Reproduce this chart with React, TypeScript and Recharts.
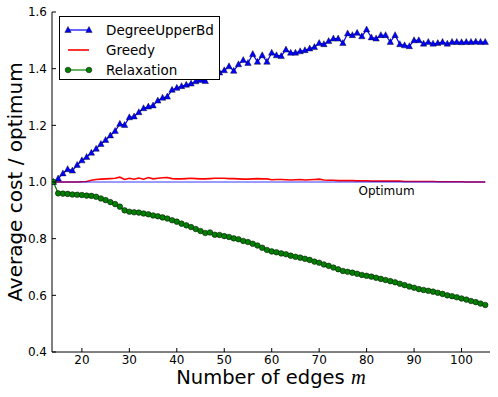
import React from "react";
import {
  LineChart,
  Line,
  XAxis,
  YAxis,
  Legend,
  Label,
  ReferenceLine,
  ReferenceDot,
} from "recharts";

// number of edges m
const edges = [
  14, 15, 16, 17, 18, 19, 20, 21, 22, 23, 24, 25, 26, 27, 28, 29, 30, 31, 32,
  33, 34, 35, 36, 37, 38, 39, 40, 41, 42, 43, 44, 45, 46, 47, 48, 49, 50, 51,
  52, 53, 54, 55, 56, 57, 58, 59, 60, 61, 62, 63, 64, 65, 66, 67, 68, 69, 70,
  71, 72, 73, 74, 75, 76, 77, 78, 79, 80, 81, 82, 83, 84, 85, 86, 87, 88, 89,
  90, 91, 92, 93, 94, 95, 96, 97, 98, 99, 100, 101, 102, 103, 104, 105,
];

const degreeUpperBd = [
  1.0, 1.012, 1.03, 1.045, 1.04, 1.06, 1.076, 1.088, 1.103, 1.117, 1.134,
  1.148, 1.164, 1.18, 1.205, 1.201, 1.228, 1.231, 1.246, 1.26, 1.266, 1.27,
  1.287, 1.297, 1.301, 1.325, 1.332, 1.338, 1.343, 1.347, 1.355, 1.36, 1.356,
  1.372, 1.38, 1.386, 1.394, 1.408, 1.392, 1.415, 1.43, 1.42, 1.451, 1.424,
  1.447, 1.424, 1.456, 1.447, 1.444, 1.467, 1.456, 1.456, 1.461, 1.465, 1.471,
  1.476, 1.49, 1.486, 1.497, 1.506, 1.506, 1.49, 1.524, 1.518, 1.526, 1.514,
  1.538, 1.51, 1.506, 1.518, 1.518, 1.494, 1.518, 1.486, 1.482, 1.479, 1.5,
  1.5, 1.488, 1.494, 1.488, 1.49, 1.494, 1.488, 1.494, 1.494, 1.493, 1.494,
  1.494, 1.495, 1.494, 1.494,
];

const greedy = [
  1.0, 1.0, 1.0, 1.0, 1.0, 1.0, 1.001, 1.002, 1.006, 1.009, 1.01, 1.011, 1.012,
  1.013, 1.017, 1.009, 1.013, 1.01, 1.014, 1.01, 1.016, 1.011, 1.013, 1.015,
  1.016, 1.012, 1.011, 1.011, 1.012, 1.013, 1.012, 1.011, 1.011, 1.012, 1.013,
  1.013, 1.013, 1.012, 1.012, 1.011, 1.01, 1.01, 1.011, 1.012, 1.011, 1.011,
  1.008, 1.009, 1.009, 1.008, 1.007, 1.008, 1.009, 1.007, 1.008, 1.009, 1.01,
  1.007, 1.006, 1.006, 1.005, 1.005, 1.005, 1.005, 1.004, 1.004, 1.004, 1.003,
  1.003, 1.003, 1.003, 1.003, 1.003, 1.003, 1.002, 1.002, 1.002, 1.002, 1.002,
  1.002, 1.002, 1.001, 1.001, 1.001, 1.001, 1.001, 1.001, 1.0, 1.0, 1.0, 1.0,
  1.0,
];

const relaxation = [
  1.0, 0.96, 0.959, 0.958, 0.956, 0.955, 0.954, 0.952, 0.951, 0.948, 0.942,
  0.936, 0.929, 0.922, 0.913, 0.9, 0.895, 0.893, 0.892, 0.889, 0.886, 0.882,
  0.879, 0.875, 0.871, 0.865, 0.86, 0.853, 0.847, 0.841, 0.834, 0.827, 0.82,
  0.822, 0.814, 0.813, 0.809, 0.806, 0.801, 0.798, 0.792, 0.788, 0.782, 0.776,
  0.768, 0.76, 0.755, 0.752, 0.748, 0.745, 0.74, 0.736, 0.733, 0.729, 0.725,
  0.719, 0.715, 0.709, 0.704, 0.698, 0.692, 0.686, 0.683, 0.68, 0.676, 0.672,
  0.669, 0.666, 0.662, 0.658, 0.654, 0.65, 0.646, 0.641, 0.636, 0.631, 0.627,
  0.622, 0.619, 0.616, 0.613, 0.609, 0.605, 0.6, 0.597, 0.593, 0.589, 0.585,
  0.58, 0.576, 0.571, 0.566,
];

const xTicks = [20, 30, 40, 50, 60, 70, 80, 90, 100];
const yTicks = [0.4, 0.6, 0.8, 1.0, 1.2, 1.4, 1.6];
const xDomain = [13.7, 106];
const yDomain = [0.4, 1.6];
const optimumLabelAt = 84.2;

const data = edges.map((m, i) => ({
  m,
  degree: degreeUpperBd[i],
  greedy: greedy[i],
  relax: relaxation[i],
}));

const FONT = "DejaVu Sans";
const TICK_LEN = 4;

const BottomTick = (p: any) => (
  <g>
    <line x1={p.x} x2={p.x} y1={p.y} y2={p.y - TICK_LEN} stroke="#000" />
    <text x={p.x} y={p.y + 12} textAnchor="middle" fontSize={12} fill="#000" fontFamily={FONT}>
      {p.payload.value}
    </text>
  </g>
);

const TopTick = (p: any) => (
  <line x1={p.x} x2={p.x} y1={p.y} y2={p.y + TICK_LEN} stroke="#000" />
);

const LeftTick = (p: any) => (
  <g>
    <line x1={p.x} x2={p.x + TICK_LEN} y1={p.y} y2={p.y} stroke="#000" />
    <text x={p.x - 5} y={p.y} dy="0.36em" textAnchor="end" fontSize={12} fill="#000" fontFamily={FONT}>
      {Number(p.payload.value).toFixed(1)}
    </text>
  </g>
);

const RightTick = (p: any) => (
  <line x1={p.x} x2={p.x - TICK_LEN} y1={p.y} y2={p.y} stroke="#000" />
);

const Triangle = (p: any) => {
  const { cx, cy, index } = p;
  if (cx == null || cy == null) return <g key={`t-${index}`} />;
  return (
    <polygon
      key={`t-${index}`}
      points={`${cx},${cy - 3.6} ${cx - 3.2},${cy + 2.4} ${cx + 3.2},${cy + 2.4}`}
      fill="#0000ff"
      stroke="#000"
      strokeWidth={0.4}
    />
  );
};

const legendItems = [
  { name: "DegreeUpperBd", color: "#0000ff", marker: "triangle" },
  { name: "Greedy", color: "#ff0000", marker: "none" },
  { name: "Relaxation", color: "#008000", marker: "circle" },
];

const renderLegend = () => (
  <div
    style={{
      width: 159,
      height: 62,
      border: "1px solid #000",
      background: "#fff",
      position: "relative",
    }}
  >
    <svg width={159} height={62} style={{ position: "absolute", left: 0, top: 0 }}>
      {legendItems.map((it, i) => {
        const cy = 13 + i * 20;
        const xs = [8, 29];
        return (
          <g key={it.name}>
            <line
              x1={xs[0]}
              x2={xs[1]}
              y1={cy}
              y2={cy}
              stroke={it.color}
              strokeWidth={it.marker === "none" ? 1.6 : 1.2}
            />
            {it.marker === "triangle" &&
              xs.map((x) => (
                <polygon
                  key={x}
                  points={`${x},${cy - 3.6} ${x - 3.2},${cy + 2.4} ${x + 3.2},${cy + 2.4}`}
                  fill={it.color}
                  stroke="#000"
                  strokeWidth={0.4}
                />
              ))}
            {it.marker === "circle" &&
              xs.map((x) => (
                <circle key={x} cx={x} cy={cy} r={2.8} fill={it.color} stroke="#000" strokeWidth={0.5} />
              ))}
            <text x={46} y={cy} dy="0.36em" fontSize={13.5} fontFamily={FONT} fill="#000">
              {it.name}
            </text>
          </g>
        );
      })}
    </svg>
  </div>
);

export default function App() {
  return (
    <div style={{ position: "absolute", left: 0, top: 0, width: 498, height: 397, background: "#fff" }}>
      <LineChart
        width={498}
        height={397}
        data={data}
        margin={{ top: 12, right: 8, bottom: 0, left: 0 }}
        style={{ fontFamily: FONT }}
      >
        <XAxis
          dataKey="m"
          type="number"
          domain={xDomain}
          ticks={xTicks}
          interval={0}
          allowDataOverflow
          height={45}
          tickSize={0}
          tickMargin={0}
          tickLine={false}
          axisLine={{ stroke: "#000" }}
          tick={BottomTick}
        >
          <Label
            content={(props: any) => {
              const vb = props.viewBox;
              return (
                <text
                  x={vb.x + vb.width / 2}
                  y={vb.y + 32}
                  textAnchor="middle"
                  fontSize={19.5}
                  fontFamily={FONT}
                  fill="#000"
                >
                  Number of edges{" "}
                  <tspan fontStyle="italic" fontFamily="Liberation Serif" fontSize={20.5}>
                    m
                  </tspan>
                </text>
              );
            }}
          />
        </XAxis>
        <XAxis
          xAxisId="top"
          orientation="top"
          type="number"
          domain={xDomain}
          ticks={xTicks}
          interval={0}
          allowDataOverflow
          height={0}
          tickSize={0}
          tickMargin={0}
          tickLine={false}
          axisLine={{ stroke: "#000" }}
          tick={TopTick}
        />
        <YAxis
          type="number"
          domain={yDomain}
          ticks={yTicks}
          interval={0}
          allowDataOverflow
          width={52}
          tickSize={0}
          tickMargin={0}
          tickLine={false}
          axisLine={{ stroke: "#000" }}
          tick={LeftTick}
        >
          <Label
            content={(props: any) => {
              const vb = props.viewBox;
              const cy = vb.y + vb.height / 2;
              return (
                <text
                  x={22}
                  y={cy}
                  transform={`rotate(-90, 22, ${cy})`}
                  textAnchor="middle"
                  fontSize={20}
                  fontFamily={FONT}
                  fill="#000"
                >
                  Average cost / optimum
                </text>
              );
            }}
          />
        </YAxis>
        <YAxis
          yAxisId="right"
          orientation="right"
          type="number"
          domain={yDomain}
          ticks={yTicks}
          interval={0}
          allowDataOverflow
          width={0}
          tickSize={0}
          tickMargin={0}
          tickLine={false}
          axisLine={{ stroke: "#000" }}
          tick={RightTick}
        />
        <Line
          dataKey="degree"
          name="DegreeUpperBd"
          stroke="#0000ff"
          strokeWidth={1.2}
          dot={Triangle}
          activeDot={false}
          isAnimationActive={false}
        />
        <Line
          dataKey="greedy"
          name="Greedy"
          stroke="#ff0000"
          strokeWidth={1.6}
          dot={false}
          activeDot={false}
          isAnimationActive={false}
        />
        <Line
          dataKey="relax"
          name="Relaxation"
          stroke="#008000"
          strokeWidth={1.2}
          dot={{ r: 2.8, fill: "#008000", stroke: "#000", strokeWidth: 0.5 }}
          activeDot={false}
          isAnimationActive={false}
        />
        <ReferenceLine
          segment={[
            { x: edges[0], y: 1 },
            { x: edges[edges.length - 1], y: 1 },
          ]}
          stroke="#0000ff"
          strokeWidth={0.8}
        />
        <ReferenceDot
          x={optimumLabelAt}
          y={1}
          r={0.5}
          fill="none"
          stroke="none"
          label={{ value: "Optimum", position: "bottom", offset: 4, fontSize: 12, fill: "#000", fontFamily: FONT }}
        />
        <Legend
          layout="vertical"
          align="center"
          verticalAlign="middle"
          wrapperStyle={{ left: 59, top: 16, width: "auto" }}
          content={renderLegend}
        />
      </LineChart>
    </div>
  );
}
